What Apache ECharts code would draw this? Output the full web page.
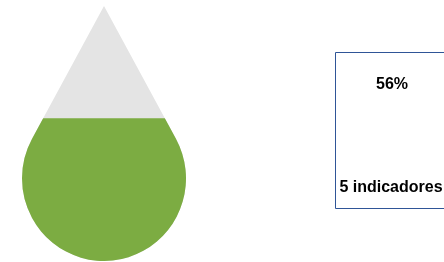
<!DOCTYPE html>
<html>
<head>
<meta charset="utf-8">
<script src="https://cdn.jsdelivr.net/npm/echarts@6/dist/echarts.min.js"></script>
<style>
  html, body { margin: 0; padding: 0; background: #fff; }
  #main { width: 444px; height: 262px; }
</style>
</head>
<body>
<div id="main"></div>
<script>
var categories = ["Avance"];
var percentValues = [56];
var fullValues = [100];
var indicatorCount = [5];

// teardrop: tip on top, circle at the bottom
var dropPath = "path://M82,0 L153.95,131.7 A82,82 0 1 1 10.05,131.7 Z";

var myChart = echarts.init(document.getElementById("main"), null, {
    width: 444,
    height: 262,
});
var option;

option = {
    animation: false,
    grid: {
        left: 22,
        top: 6,
        width: 164,
        height: 255,
    },
    xAxis: {
        type: "category",
        data: categories,
        show: false,
    },
    yAxis: {
        type: "value",
        min: 0,
        max: 100,
        show: false,
    },
    series: [
        {
            name: "fondo",
            type: "pictorialBar",
            barCategoryGap: 0,
            symbol: dropPath,
            symbolSize: ["100%", "100%"],
            symbolPosition: "start",
            symbolBoundingData: 100,
            itemStyle: { color: "#e4e4e4" },
            z: 1,
            silent: true,
            data: fullValues,
        },
        {
            name: "avance",
            type: "pictorialBar",
            barCategoryGap: 0,
            barGap: "-100%",
            symbol: dropPath,
            symbolSize: ["100%", "100%"],
            symbolPosition: "start",
            symbolBoundingData: 100,
            symbolClip: true,
            itemStyle: { color: "#7cac42" },
            z: 2,
            data: percentValues,
        },
    ],
    graphic: [
        {
            type: "rect",
            shape: { x: 335.5, y: 52.5, width: 130, height: 156 },
            style: { fill: "#fff", stroke: "#2f5597", lineWidth: 1 },
        },
        {
            type: "text",
            x: 392,
            y: 85,
            style: {
                text: percentValues[0] + "%",
                fill: "#000",
                font: "bold 16px Arial",
                align: "center",
                verticalAlign: "middle",
            },
        },
        {
            type: "text",
            x: 391,
            y: 188,
            style: {
                text: indicatorCount[0] + " indicadores",
                fill: "#000",
                font: "bold 16px Arial",
                align: "center",
                verticalAlign: "middle",
            },
        },
    ],
};
option && myChart.setOption(option);
</script>
</body>
</html>
